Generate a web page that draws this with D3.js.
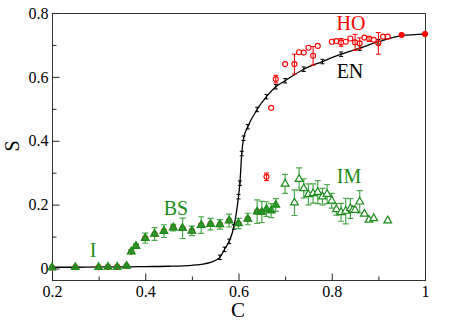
<!DOCTYPE html>
<html>
<head>
<meta charset="utf-8">
<script src="https://cdn.jsdelivr.net/npm/d3@7"></script>
<style>
  body { margin: 0; background: #fff; }
</style>
</head>
<body>
<div id="vis"></div>
<script>
// EN curve (black line), markers from c >= 0.56
var enC = [0.2, 0.25, 0.3, 0.36, 0.4, 0.45, 0.5, 0.52, 0.54, 0.56, 0.57, 0.58, 0.59, 0.6, 0.603, 0.607, 0.611, 0.62, 0.64, 0.66, 0.68, 0.7, 0.74, 0.78, 0.82, 0.86, 0.9, 0.95, 1.0],
    enS = [0.004, 0.004, 0.005, 0.005, 0.006, 0.007, 0.01, 0.013, 0.019, 0.035, 0.06, 0.085, 0.13, 0.225, 0.267, 0.36, 0.408, 0.444, 0.498, 0.538, 0.569, 0.588, 0.624, 0.648, 0.671, 0.69, 0.71, 0.729, 0.734];

// HO (red circles)
var hoC = [0.2, 0.25, 0.3, 0.32, 0.34, 0.36, 0.37, 0.38, 0.4, 0.42, 0.44, 0.46, 0.48, 0.5, 0.52, 0.54, 0.56, 0.58, 0.6, 0.62, 0.64, 0.65,
           0.66, 0.67, 0.68, 0.7, 0.72, 0.73, 0.74, 0.75, 0.76, 0.77, 0.8, 0.81, 0.82, 0.83, 0.84, 0.85, 0.86, 0.87, 0.88, 0.89, 0.9, 0.91, 0.92, 0.95, 1.0],
    hoS = [0.003, 0.004, 0.004, 0.005, 0.005, 0.008, 0.053, 0.07, 0.095, 0.108, 0.117, 0.128, 0.126, 0.118, 0.136, 0.139, 0.138, 0.15, 0.141, 0.155, 0.178, 0.177,
           0.287, 0.503, 0.593, 0.64, 0.64, 0.677, 0.676, 0.691, 0.666, 0.697, 0.71, 0.712, 0.708, 0.71, 0.72, 0.708, 0.705, 0.723, 0.719, 0.716, 0.705, 0.726, 0.726, 0.731, 0.734],
    hoE = [0, 0, 0, 0, 0, 0, 0, 0, 0, 0, 0, 0, 0, 0, 0, 0, 0, 0, 0, 0, 0, 0,
           0.012, 0, 0.012, 0, 0.031, 0, 0, 0, 0.029, 0, 0, 0, 0.012, 0, 0, 0.025, 0.017, 0, 0.008, 0, 0.034, 0, 0, 0, 0];

// IM / BS / I (green triangles)
var imC = [0.2, 0.25, 0.3, 0.32, 0.34, 0.36, 0.37, 0.38, 0.4, 0.42, 0.44, 0.46, 0.48, 0.5, 0.52, 0.54, 0.56, 0.58, 0.6, 0.62, 0.64, 0.65, 0.66, 0.67, 0.68,
           0.7, 0.72, 0.73, 0.74, 0.75, 0.76, 0.77, 0.78, 0.79, 0.8, 0.81, 0.82, 0.83, 0.84, 0.845, 0.85, 0.86, 0.87, 0.88, 0.89, 0.92],
    imS = [0.003, 0.004, 0.004, 0.005, 0.005, 0.008, 0.053, 0.07, 0.095, 0.108, 0.117, 0.128, 0.126, 0.118, 0.136, 0.139, 0.138, 0.15, 0.141, 0.155, 0.178, 0.177, 0.186, 0.181, 0.199,
           0.265, 0.206, 0.28, 0.251, 0.232, 0.235, 0.239, 0.225, 0.233, 0.212, 0.185, 0.176, 0.18, 0.188, 0.183, 0.183, 0.209, 0.171, 0.152, 0.157, 0.15],
    imE = [0, 0, 0, 0, 0, 0.003, 0.006, 0.007, 0.016, 0.02, 0.02, 0.01, 0.032, 0.015, 0.026, 0.018, 0.015, 0.02, 0.016, 0.018, 0.037, 0.033, 0.023, 0.022, 0.02,
           0.03, 0.04, 0.035, 0.03, 0.033, 0.03, 0.036, 0.026, 0.03, 0.023, 0.018, 0.028, 0.04, 0.031, 0, 0, 0.035, 0, 0, 0, 0];

var xTicks = [0.2, 0.4, 0.6, 0.8, 1],
    xMinor = [0.3, 0.5, 0.7, 0.9],
    yTicks = [0, 0.2, 0.4, 0.6, 0.8],
    yMinor = [0.1, 0.3, 0.5, 0.7];

var w = 459, h = 324,
    plotL = 52, plotR = 425, plotT = 13, plotB = 280,
    serif = "'Liberation Serif', 'DejaVu Serif', serif",
    red = "#ff0000", green = "#1b8c1b", greenBar = "#4aa84a";

var x = d3.scaleLinear().domain([0.2, 1]).range([plotL, plotR]),
    y = d3.scaleLinear().domain([-0.036, 0.8]).range([plotB, plotT]);

var svg = d3.select("#vis").append("svg")
            .attr("width", w)
            .attr("height", h);

// frame
svg.append("rect")
   .attr("x", plotL + 0.5).attr("y", plotT + 0.5)
   .attr("width", plotR - plotL).attr("height", plotB - plotT)
   .attr("fill", "none").attr("stroke", "#333").attr("stroke-width", 1);

// axes (inward ticks)
function fmt(d) { return d === 0 ? "0" : d === 1 ? "1" : d3.format(".1f")(d); }

var gx = svg.append("g").attr("transform", "translate(0," + (plotB + 0.5) + ")")
            .call(d3.axisBottom(x).tickValues(xTicks).tickFormat(fmt).tickSize(-7).tickSizeOuter(0).tickPadding(5));
var gxm = svg.append("g").attr("transform", "translate(0," + (plotB + 0.5) + ")")
             .call(d3.axisBottom(x).tickValues(xMinor).tickFormat("").tickSize(-4).tickSizeOuter(0));
var gy = svg.append("g").attr("transform", "translate(" + (plotL + 0.5) + ",0)")
            .call(d3.axisLeft(y).tickValues(yTicks).tickFormat(fmt).tickSize(-7).tickSizeOuter(0).tickPadding(4));
var gym = svg.append("g").attr("transform", "translate(" + (plotL + 0.5) + ",0)")
             .call(d3.axisLeft(y).tickValues(yMinor).tickFormat("").tickSize(-4).tickSizeOuter(0));

[gx, gxm, gy, gym].forEach(function(g) {
    g.attr("font-size", null).attr("font-family", null);
    g.select(".domain").remove();
    g.selectAll("line").attr("stroke", "#222");
    g.selectAll("text").style("font-family", serif).style("font-size", "16px").attr("fill", "#000");
});

// axis titles
svg.append("text").attr("x", 238).attr("y", 317).attr("text-anchor", "middle")
   .style("font-family", serif).style("font-size", "21px").text("C");
svg.append("text").attr("transform", "translate(19,146) rotate(-90)").attr("text-anchor", "middle")
   .style("font-family", serif).style("font-size", "20px").text("S");

// EN curve
var en = enC.map(function(c, i) { return { c: c, s: enS[i] }; });
var line = d3.line()
             .x(function(d) { return x(d.c); })
             .y(function(d) { return y(d.s); })
             .curve(d3.curveMonotoneX);

svg.append("path").datum(en)
   .attr("d", line).attr("fill", "none")
   .attr("stroke", "#000").attr("stroke-width", 1.3);

svg.selectAll(".enMark")
   .data(en.filter(function(d) { return d.c >= 0.56 && d.c < 0.95; }))
   .enter().append("path")
   .attr("class", "enMark")
   .attr("d", function(d) {
       var cx = x(d.c), y1 = y(d.s + 0.007), y2 = y(d.s - 0.007);
       return "M" + cx + "," + y1 + "V" + y2 + "M" + (cx - 2) + "," + y1 + "H" + (cx + 2) + "M" + (cx - 2) + "," + y2 + "H" + (cx + 2);
   })
   .attr("stroke", "#000").attr("stroke-width", 1).attr("fill", "none");

// error bar helper
function errBar(d, cap) {
    var cx = x(d.c), y1 = y(d.s + d.e), y2 = y(d.s - d.e);
    return "M" + cx + "," + y1 + "V" + y2 + "M" + (cx - cap) + "," + y1 + "H" + (cx + cap) + "M" + (cx - cap) + "," + y2 + "H" + (cx + cap);
}

// HO
var ho = hoC.map(function(c, i) { return { c: c, s: hoS[i], e: hoE[i] }; });
svg.selectAll(".hoErr")
   .data(ho.filter(function(d) { return d.e > 0; }))
   .enter().append("path")
   .attr("class", "hoErr")
   .attr("d", function(d) { return errBar(d, 2.5); })
   .attr("stroke", red).attr("stroke-width", 1).attr("fill", "none");

svg.selectAll(".ho")
   .data(ho)
   .enter().append("circle")
   .attr("class", "ho")
   .attr("cx", function(d) { return x(d.c); })
   .attr("cy", function(d) { return y(d.s); })
   .attr("r", 2.5)
   .attr("fill", function(d) { return d.c >= 0.95 ? red : "none"; })
   .attr("stroke", red).attr("stroke-width", 1.1);

// IM
var im = imC.map(function(c, i) { return { c: c, s: imS[i], e: imE[i] }; });
svg.selectAll(".imErr")
   .data(im.filter(function(d) { return d.e > 0; }))
   .enter().append("path")
   .attr("class", "imErr")
   .attr("d", function(d) { return errBar(d, 3); })
   .attr("stroke", greenBar).attr("stroke-width", 1.2).attr("fill", "none");

var tri = d3.symbol().type(d3.symbolTriangle).size(26);
svg.selectAll(".im")
   .data(im)
   .enter().append("path")
   .attr("class", "im")
   .attr("d", tri)
   .attr("transform", function(d) { return "translate(" + x(d.c) + "," + y(d.s) + ")"; })
   .attr("fill", function(d) { return d.c <= 0.68 ? green : "#fff"; })
   .attr("fill-opacity", function(d) { return d.c <= 0.68 ? 0.85 : 1; })
   .attr("stroke", green).attr("stroke-width", 1.2);

// labels
function label(tx, ty, col, s) {
    svg.append("text").attr("x", tx).attr("y", ty).attr("text-anchor", "middle")
       .style("font-family", serif).style("font-size", "20px").attr("fill", col).text(s);
}
label(351, 30, red, "HO");
label(350, 78, "#000", "EN");
label(349, 183, green, "IM");
label(176, 215, green, "BS");
label(93, 257, green, "I");
</script>
</body>
</html>
